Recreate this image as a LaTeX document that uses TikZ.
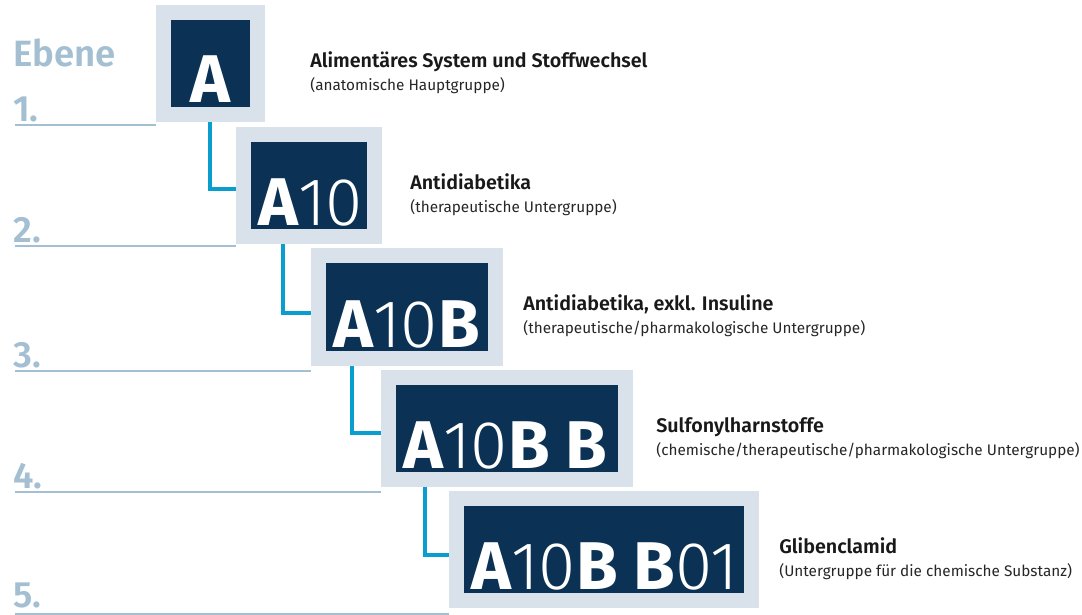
\documentclass[tikz,border=0pt]{standalone}
\usepackage{fontspec}
\setmainfont{Fira Sans}
\newfontfamily\firasemi{Fira Sans SemiBold}
\newfontfamily\firalight{Fira Sans Light}
\usepackage{tikz}

\definecolor{navy}{HTML}{0B3254}
\definecolor{frame}{HTML}{D9E2EA}
\definecolor{linkcyan}{HTML}{0A9ECF}
\definecolor{levelblue}{HTML}{A3BFD1}

\newcommand{\cbold}[1]{{\bfseries #1}}
\newcommand{\clight}[1]{{\firalight #1}}

\begin{document}
\begin{tikzpicture}[x=0.025cm, y=-0.025cm,
  outerbox/.style={fill=frame, inner sep=0pt},
  innerbox/.style={fill=navy, inner sep=0pt},
  code/.style={text=white, inner sep=0pt, font=\fontsize{48}{48}\selectfont},
  title/.style={inner sep=0pt, anchor=base west, text=black!90, font=\fontsize{14}{16}\firasemi},
  subtitle/.style={inner sep=0pt, anchor=base west, text=black!85, font=\fontsize{10.9}{13}\selectfont},
  lvl/.style={inner sep=0pt, anchor=base west, text=levelblue, font=\fontsize{26}{26}\firasemi},
  lvlline/.style={draw=levelblue, line width=1.4pt},
  link/.style={draw=linkcyan, line width=2.8pt}]

  \useasboundingbox (0,0) rectangle (1082,614);

  % boxes, outer frame and dark field
  \foreach \n/\xa/\ya/\xb/\yb in {1/156/5/265/122, 2/236/127/382/244, 3/311/248/503/366, 4/381/370/633/487, 5/449/491/759/608} {
    \node[outerbox, minimum width={(\xb-\xa)*0.025cm}, minimum height={(\yb-\ya)*0.025cm}] (o\n) at ({(\xa+\xb)/2}, {(\ya+\yb)/2}) {};
    \node[innerbox, minimum width={(\xb-\xa-30)*0.025cm}, minimum height={(\yb-\ya-30)*0.025cm}] (i\n) at (o\n) {};
  }

  % codes
  \node[code] (c1) at (210.5, 79) {\cbold{A}};
  \node[code, anchor=base west] (c2) at (258, 225) {\cbold{A}\clight{10}};
  \node[code, anchor=base west] (c3) at (333, 347) {\cbold{A}\clight{10}\cbold{B}};
  \node[code, anchor=base west] (c4) at (403, 468) {\cbold{A}\clight{10}\cbold{B B}};
  \node[code, anchor=base west] (c5) at (471, 589) {\cbold{A}\clight{10}\cbold{B B}\clight{01}};

  % connectors
  \foreach \a/\b/\jx/\jy in {1/2/210/189, 2/3/283/313, 3/4/352/433, 4/5/425/555} {
    \coordinate (j\b) at (\jx, \jy);
    \draw[link] (o\a.south -| j\b) |- (o\b.west |- j\b);
  }

  % descriptions
  \node[title] (t1) at (310, 67) {Alimentäres System und Stoffwechsel};
  \node[subtitle] (s1) at (310, 90) {(anatomische Hauptgruppe)};
  \node[title] (t2) at (410, 189) {Antidiabetika};
  \node[subtitle] (s2) at (410, 212) {(therapeutische Untergruppe)};
  \node[title] (t3) at (523, 310) {Antidiabetika, exkl. Insuline};
  \node[subtitle] (s3) at (523, 333) {(therapeutische/pharmakologische Untergruppe)};
  \node[title] (t4) at (656, 432) {Sulfonylharnstoffe};
  \node[subtitle] (s4) at (656, 455) {(chemische/therapeutische/pharmakologische Untergruppe)};
  \node[title] (t5) at (779, 553) {Glibenclamid};
  \node[subtitle] (s5) at (779, 576) {(Untergruppe für die chemische Substanz)};

  % levels
  \node[lvl] (ebene) at (13, 66) {Ebene};
  \foreach \n/\lb/\ly in {1/121/125, 2/242/246, 3/367/371, 4/488/492, 5/607/614} {
    \node[lvl] (l\n) at (13, \lb) {\n.};
    \draw[lvlline] (15, \ly) -- (o\n.west |- 0,\ly);
  }

\end{tikzpicture}
\end{document}
